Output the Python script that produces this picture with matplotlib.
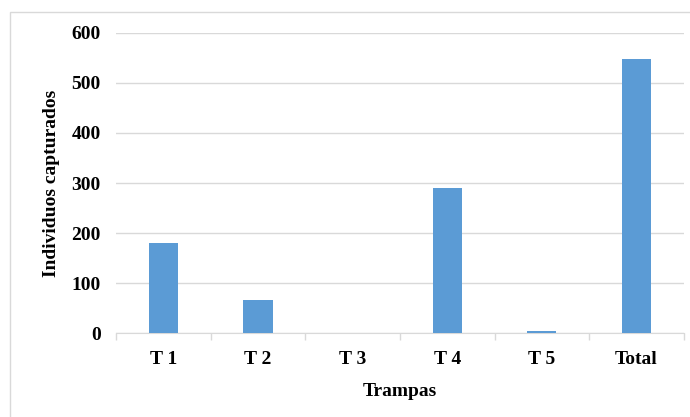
import matplotlib.pyplot as plt
import numpy as np
from matplotlib.patches import Rectangle

# trap catches
trampas = ["T 1", "T 2", "T 3", "T 4", "T 5", "Total"]
individuos = [181, 67, 0, 291, 5, 548]

plt.rcParams['font.family'] = ['Liberation Serif', 'DejaVu Serif']
plt.rcParams['font.weight'] = 'bold'

fig = plt.figure(figsize=(6.9, 4.17), dpi=100)
ax = fig.add_axes([0.168, 0.2014, 0.823, 0.7195])

x = np.arange(len(trampas))
ax.bar(x, individuos, width=0.31, color="#5b9bd5", zorder=3)

ax.set_ylim(0, 600)
ax.set_xlim(-0.5, len(trampas) - 0.5)
ax.set_yticks(range(0, 601, 100))
ax.yaxis.grid(True, color="#d9d9d9", linewidth=1, zorder=0)

ax.set_xticks(x)
ax.set_xticklabels(trampas)
ax.set_xticks(np.arange(-0.5, len(trampas)), minor=True)
ax.tick_params(axis='x', which='major', length=0, pad=13, labelsize=14)
ax.tick_params(axis='x', which='minor', length=5, color="#d9d9d9", width=1)
ax.tick_params(axis='y', length=0, pad=11, labelsize=14)

for s in ["top", "right", "left"]:
    ax.spines[s].set_visible(False)
ax.spines["bottom"].set_color("#d9d9d9")

ax.set_xlabel("Trampas", fontsize=14, fontweight='bold', labelpad=11)
ax.set_ylabel("Individuos capturados", fontsize=14, fontweight='bold', labelpad=8)

# outer chart frame
fig.patches.append(Rectangle((10 / 690, -0.1), 1.2, 1 - 12 / 417 + 0.1,
                             transform=fig.transFigure, fill=False,
                             edgecolor="#d9d9d9", linewidth=1))

fig.savefig("out.png", dpi=100)
